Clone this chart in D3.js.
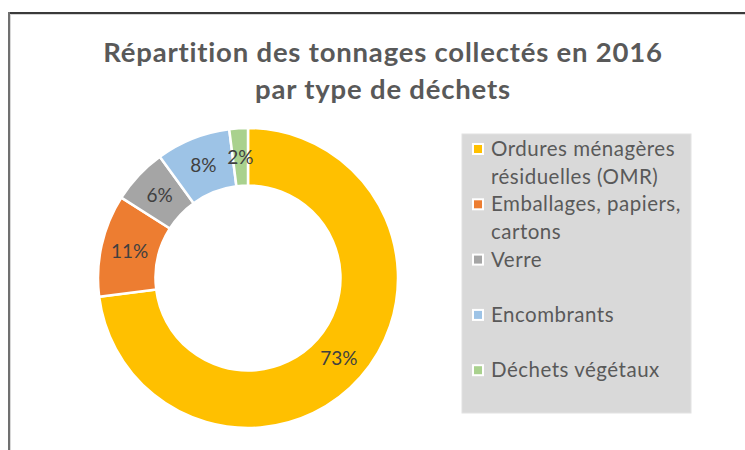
<!DOCTYPE html>
<html>
<head>
<meta charset="utf-8">
<script src="https://cdn.jsdelivr.net/npm/d3@7"></script>
<style>
  html, body { margin: 0; padding: 0; background: #fff; }
  svg { display: block; }
</style>
</head>
<body>
<svg id="chart" width="745" height="450"></svg>
<script>
const titleLines = ["Répartition des tonnages collectés en 2016", "par type de déchets"];
const categories = ["Ordures ménagères résiduelles (OMR)", "Emballages, papiers, cartons", "Verre", "Encombrants", "Déchets végétaux"];
const legendLines = [["Ordures ménagères", "résiduelles (OMR)"], ["Emballages, papiers,", "cartons"], ["Verre"], ["Encombrants"], ["Déchets végétaux"]];
const values = [73, 11, 6, 8, 2];
const labels = ["73%", "11%", "6%", "8%", "2%"];
const colors = ["#FFC000", "#ED7D31", "#A5A5A5", "#9DC3E6", "#A9D18E"];

const svg = d3.select("#chart");
const font = "Lato, 'Open Sans', sans-serif";

// frame
svg.append("rect").attr("x", 0).attr("y", 0).attr("width", 745).attr("height", 450).attr("fill", "#fff");
svg.append("line").attr("x1", 8).attr("x2", 745).attr("y1", 13).attr("y2", 13).attr("stroke", "#3a3a3a").attr("stroke-width", 2);
svg.append("line").attr("x1", 11).attr("x2", 745).attr("y1", 14.5).attr("y2", 14.5).attr("stroke", "#d4d4d4").attr("stroke-width", 1);
svg.append("line").attr("x1", 9).attr("x2", 9).attr("y1", 12).attr("y2", 450).attr("stroke", "#707070").attr("stroke-width", 2);
svg.append("line").attr("x1", 10.5).attr("x2", 10.5).attr("y1", 14).attr("y2", 450).attr("stroke", "#d8d8d8").attr("stroke-width", 1);

// title
svg.append("g").selectAll("text").data(titleLines).join("text")
  .attr("x", 383).attr("y", (d, i) => 62 + i * 36.5)
  .attr("text-anchor", "middle")
  .attr("font-family", font).attr("font-weight", "bold").attr("font-size", 27.5)
  .attr("letter-spacing", 0.8)
  .attr("fill", "#595959")
  .text(d => d);

// donut
const cx = 248, cy = 278, rOuter = 150, rInner = 92.5;
const pie = d3.pie().sort(null).value(d => d);
const arcs = pie(values);
const arc = d3.arc().innerRadius(rInner).outerRadius(rOuter);
const g = svg.append("g").attr("transform", `translate(${cx},${cy})`);
g.selectAll("path").data(arcs).join("path")
  .attr("d", arc)
  .attr("fill", (d, i) => colors[i])
  .attr("stroke", "#fff").attr("stroke-width", 2.5).attr("stroke-linejoin", "round");
g.selectAll("text").data(arcs).join("text")
  .attr("transform", d => `translate(${arc.centroid(d)})`)
  .attr("text-anchor", "middle").attr("dy", "0.36em")
  .attr("font-family", font).attr("font-size", 19)
  .attr("fill", "#404040")
  .text((d, i) => labels[i]);

// legend
const lg = svg.append("g");
lg.append("rect").attr("x", 462).attr("y", 134).attr("width", 229).attr("height", 279)
  .attr("fill", "#D9D9D9").attr("stroke", "#e2e2e2").attr("stroke-width", 1);
const entry = lg.selectAll("g.entry").data(categories).join("g").attr("class", "entry")
  .attr("transform", (d, i) => `translate(0,${156 + i * 55.3})`);
entry.append("rect").attr("x", 473).attr("y", -12).attr("width", 10).attr("height", 10)
  .attr("fill", (d, i) => colors[i]).attr("stroke", "#fff").attr("stroke-width", 2);
entry.each(function(d, i) {
  d3.select(this).selectAll("text").data(legendLines[i]).join("text")
    .attr("x", 491).attr("y", (t, j) => j * 27.5)
    .attr("font-family", font).attr("font-size", 20.5)
    .attr("letter-spacing", 0.5)
    .attr("fill", "#595959")
    .text(t => t);
});
</script>
</body>
</html>
